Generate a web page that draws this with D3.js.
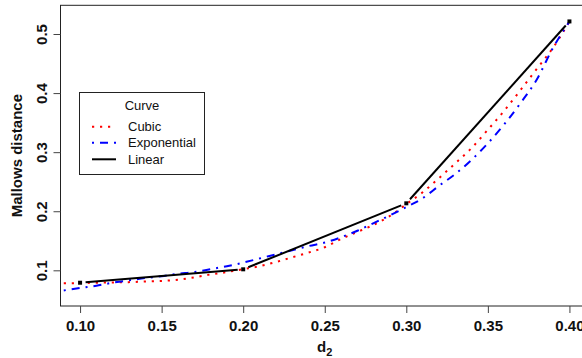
<!DOCTYPE html>
<html>
<head>
<meta charset="utf-8">
<script src="https://cdn.jsdelivr.net/npm/d3@7"></script>
<style>
  html, body { margin: 0; padding: 0; background: #fff; }
  svg { display: block; font-family: "Liberation Sans", Arial, sans-serif; }
</style>
</head>
<body>
<svg id="chart" width="582" height="358"></svg>
<script>
// ---- data ----
const xTicks = [0.10, 0.15, 0.20, 0.25, 0.30, 0.35, 0.40];
const yTicks = [0.1, 0.2, 0.3, 0.4, 0.5];

const cubicX = [0.09, 0.10, 0.11, 0.12, 0.13, 0.14, 0.15, 0.16, 0.17, 0.18, 0.19, 0.20,
                0.21, 0.22, 0.23, 0.24, 0.25, 0.26, 0.27, 0.28, 0.29, 0.30,
                0.31, 0.32, 0.33, 0.34, 0.35, 0.36, 0.37, 0.38, 0.39, 0.40];
const cubicY = [0.078, 0.0785, 0.079, 0.0795, 0.080, 0.081, 0.082, 0.084, 0.088, 0.093, 0.097, 0.102,
                0.107, 0.114, 0.122, 0.130, 0.139, 0.153, 0.165, 0.177, 0.192, 0.212,
                0.232, 0.256, 0.281, 0.307, 0.338, 0.370, 0.405, 0.441, 0.477, 0.521];

const expoX = cubicX;
const expoY = [0.066, 0.070, 0.074, 0.079, 0.083, 0.087, 0.090, 0.094, 0.097, 0.102, 0.107, 0.113,
               0.120, 0.127, 0.134, 0.141, 0.147, 0.156, 0.167, 0.180, 0.193, 0.207,
               0.222, 0.243, 0.263, 0.287, 0.315, 0.347, 0.383, 0.423, 0.477, 0.521];

const linearX = [0.10, 0.20, 0.30, 0.40];
const linearY = [0.079, 0.1017, 0.2134, 0.5213];

const legendLabels = ["Cubic", "Exponential", "Linear"];

// ---- layout ----
const svg = d3.select("#chart");
const L = 60.5, R = 589, T = 5.3, B = 306;
const x = d3.scaleLinear().domain([0.088, 0.412]).range([L, R]);
const y = d3.scaleLinear().domain([0.0396, 0.5486]).range([B, T]);

svg.append("defs").append("clipPath").attr("id", "clip")
  .append("rect").attr("x", L).attr("y", T).attr("width", R - L).attr("height", B - T);

// box
svg.append("rect").attr("x", L).attr("y", T).attr("width", R - L).attr("height", B - T)
  .attr("fill", "none").attr("stroke", "#222").attr("stroke-width", 1);

// x axis
const gx = svg.append("g").attr("transform", `translate(0,${B})`)
  .call(d3.axisBottom(x).tickValues(xTicks).tickFormat(d3.format(".2f")).tickSize(7).tickPadding(6));
gx.select(".domain").remove();
gx.selectAll(".tick line").attr("stroke", "#444");
gx.selectAll(".tick text").attr("font-size", 15).attr("font-weight", "bold").attr("fill", "#111")
  .attr("font-family", "Liberation Sans, Arial, sans-serif")
  .attr("dy", null).attr("y", 24.5);

// y axis
const gy = svg.append("g").attr("transform", `translate(${L},0)`)
  .call(d3.axisLeft(y).tickValues(yTicks).tickFormat(d3.format(".1f")).tickSize(7));
gy.select(".domain").remove();
gy.selectAll(".tick line").attr("stroke", "#444");
gy.selectAll(".tick text")
  .attr("font-size", 15).attr("font-weight", "bold").attr("fill", "#111")
  .attr("font-family", "Liberation Sans, Arial, sans-serif")
  .attr("x", null).attr("dy", null)
  .attr("text-anchor", "middle")
  .attr("transform", "translate(-14,0) rotate(-90)")
  .attr("y", 0);

// axis titles
svg.append("text")
  .attr("transform", `translate(22,${(T + B) / 2}) rotate(-90)`)
  .attr("text-anchor", "middle")
  .attr("font-size", 15).attr("font-weight", "bold").attr("fill", "#111")
  .text("Mallows distance");

const xl = svg.append("text")
  .attr("x", (L + R) / 2).attr("y", 352)
  .attr("text-anchor", "middle")
  .attr("font-size", 15).attr("font-weight", "bold").attr("fill", "#111");
xl.append("tspan").text("d");
xl.append("tspan").attr("font-size", 11).attr("dy", 4).text("2");

// curves
const plot = svg.append("g").attr("clip-path", "url(#clip)");
const line = d3.line().x(d => x(d[0])).y(d => y(d[1])).curve(d3.curveMonotoneX);

plot.append("path")
  .datum(cubicX.map((v, i) => [v, cubicY[i]]))
  .attr("d", line).attr("fill", "none")
  .attr("stroke", "#ff0000").attr("stroke-width", 2)
  .attr("stroke-dasharray", "2.2,5.8");

plot.append("path")
  .datum(expoX.map((v, i) => [v, expoY[i]]))
  .attr("d", line).attr("fill", "none")
  .attr("stroke", "#0000ff").attr("stroke-width", 2)
  .attr("stroke-dasharray", "2,6,8,6");

// linear: type "b" (segments with gaps around points)
const gap = 5.5;
const linPts = linearX.map((v, i) => [x(v), y(linearY[i])]);
const segs = [];
for (let i = 0; i < linPts.length - 1; i++) {
  const [x0, y0] = linPts[i], [x1, y1] = linPts[i + 1];
  const len = Math.hypot(x1 - x0, y1 - y0);
  const ux = (x1 - x0) / len, uy = (y1 - y0) / len;
  segs.push([[x0 + ux * gap, y0 + uy * gap], [x1 - ux * gap, y1 - uy * gap]]);
}
plot.selectAll(".seg").data(segs).enter().append("path")
  .attr("d", d => d3.line()(d))
  .attr("fill", "none").attr("stroke", "#000").attr("stroke-width", 2);
plot.selectAll(".pt").data(linPts).enter().append("rect")
  .attr("x", d => d[0] - 2).attr("y", d => d[1] - 2)
  .attr("width", 4).attr("height", 4).attr("fill", "#000");

// legend
const lg = svg.append("g");
lg.append("rect").attr("x", 79.5).attr("y", 92.5).attr("width", 125).attr("height", 82)
  .attr("fill", "#fff").attr("stroke", "#222").attr("stroke-width", 1);
lg.append("text").attr("x", 142).attr("y", 109.5).attr("text-anchor", "middle")
  .attr("font-size", 13).attr("fill", "#111").text("Curve");
const lgY = [126.7, 142.7, 159.3];
const lgStyles = [
  { stroke: "#ff0000", dash: "2.2,5.8" },
  { stroke: "#0000ff", dash: "2,6,8,6" },
  { stroke: "#000", dash: null }
];
legendLabels.forEach((lab, i) => {
  lg.append("line").attr("x1", 92).attr("x2", 116).attr("y1", lgY[i]).attr("y2", lgY[i])
    .attr("stroke", lgStyles[i].stroke).attr("stroke-width", 2)
    .attr("stroke-dasharray", lgStyles[i].dash);
  lg.append("text").attr("x", 128).attr("y", lgY[i] + 4.6)
    .attr("font-size", 13).attr("fill", "#111").text(lab);
});
</script>
</body>
</html>
